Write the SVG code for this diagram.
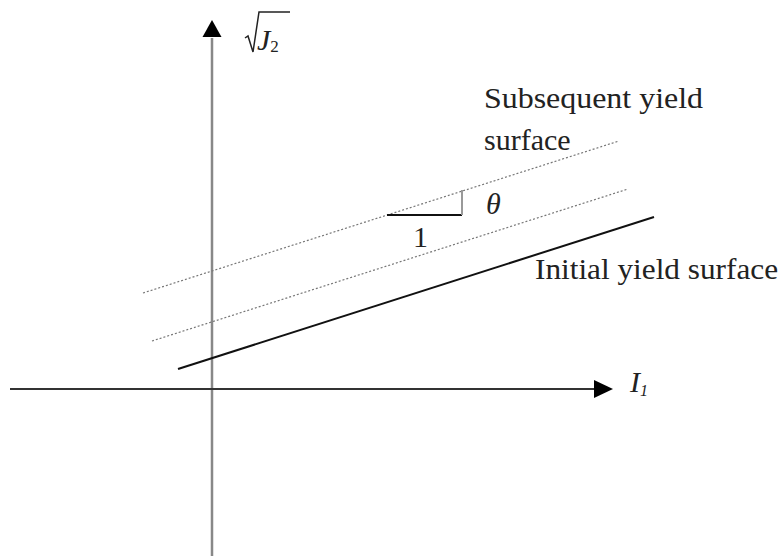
<svg xmlns="http://www.w3.org/2000/svg" width="784" height="556" viewBox="0 0 784 556">
<style>
.t{font-family:"Liberation Serif","Times New Roman",serif;font-size:30px;fill:#222}
.i{font-style:italic}
.dot{stroke:#777;stroke-width:1.2;stroke-dasharray:2 2;fill:none}
</style>
<rect width="784" height="556" fill="#fff"/>
<g id="connectors">
<line x1="212" y1="556" x2="212" y2="38" stroke="#888" stroke-width="2.5"/>
<path d="M212,20 L202.5,37 L221.5,37 Z" fill="#000"/>
<line x1="10" y1="389" x2="595" y2="389" stroke="#333" stroke-width="2"/>
<path d="M613,389 L594,380 L594,398 Z" fill="#000"/>
<line x1="178" y1="369" x2="654" y2="217" stroke="#111" stroke-width="2"/>
<line class="dot" x1="152" y1="341" x2="628" y2="189"/>
<line class="dot" x1="143" y1="293" x2="619" y2="141"/>
<line x1="387" y1="215" x2="462" y2="215" stroke="#111" stroke-width="2"/>
<line x1="462" y1="215" x2="462" y2="190" stroke="#999" stroke-width="2"/>
</g>
<g id="labels">
<text class="t" x="484" y="108" textLength="219" lengthAdjust="spacingAndGlyphs">Subsequent yield</text>
<text class="t" x="484" y="150">surface</text>
<text class="t" x="535" y="279" textLength="243" lengthAdjust="spacingAndGlyphs">Initial yield surface</text>
<text class="t i" x="486" y="214" font-size="28">θ</text>
<text class="t" x="413" y="247">1</text>
<text class="t i" x="630" y="392" font-size="26">I<tspan font-size="16" dy="4">1</tspan></text>
<g id="sqrtJ2">
<path d="M245,38 L248,36 L253,52 L259,12 L290,12" fill="none" stroke="#222" stroke-width="1.5"/>
<text class="t i" x="257" y="50">J<tspan font-style="normal" font-size="17" dy="2">2</tspan></text>
</g>
</g>
</svg>
